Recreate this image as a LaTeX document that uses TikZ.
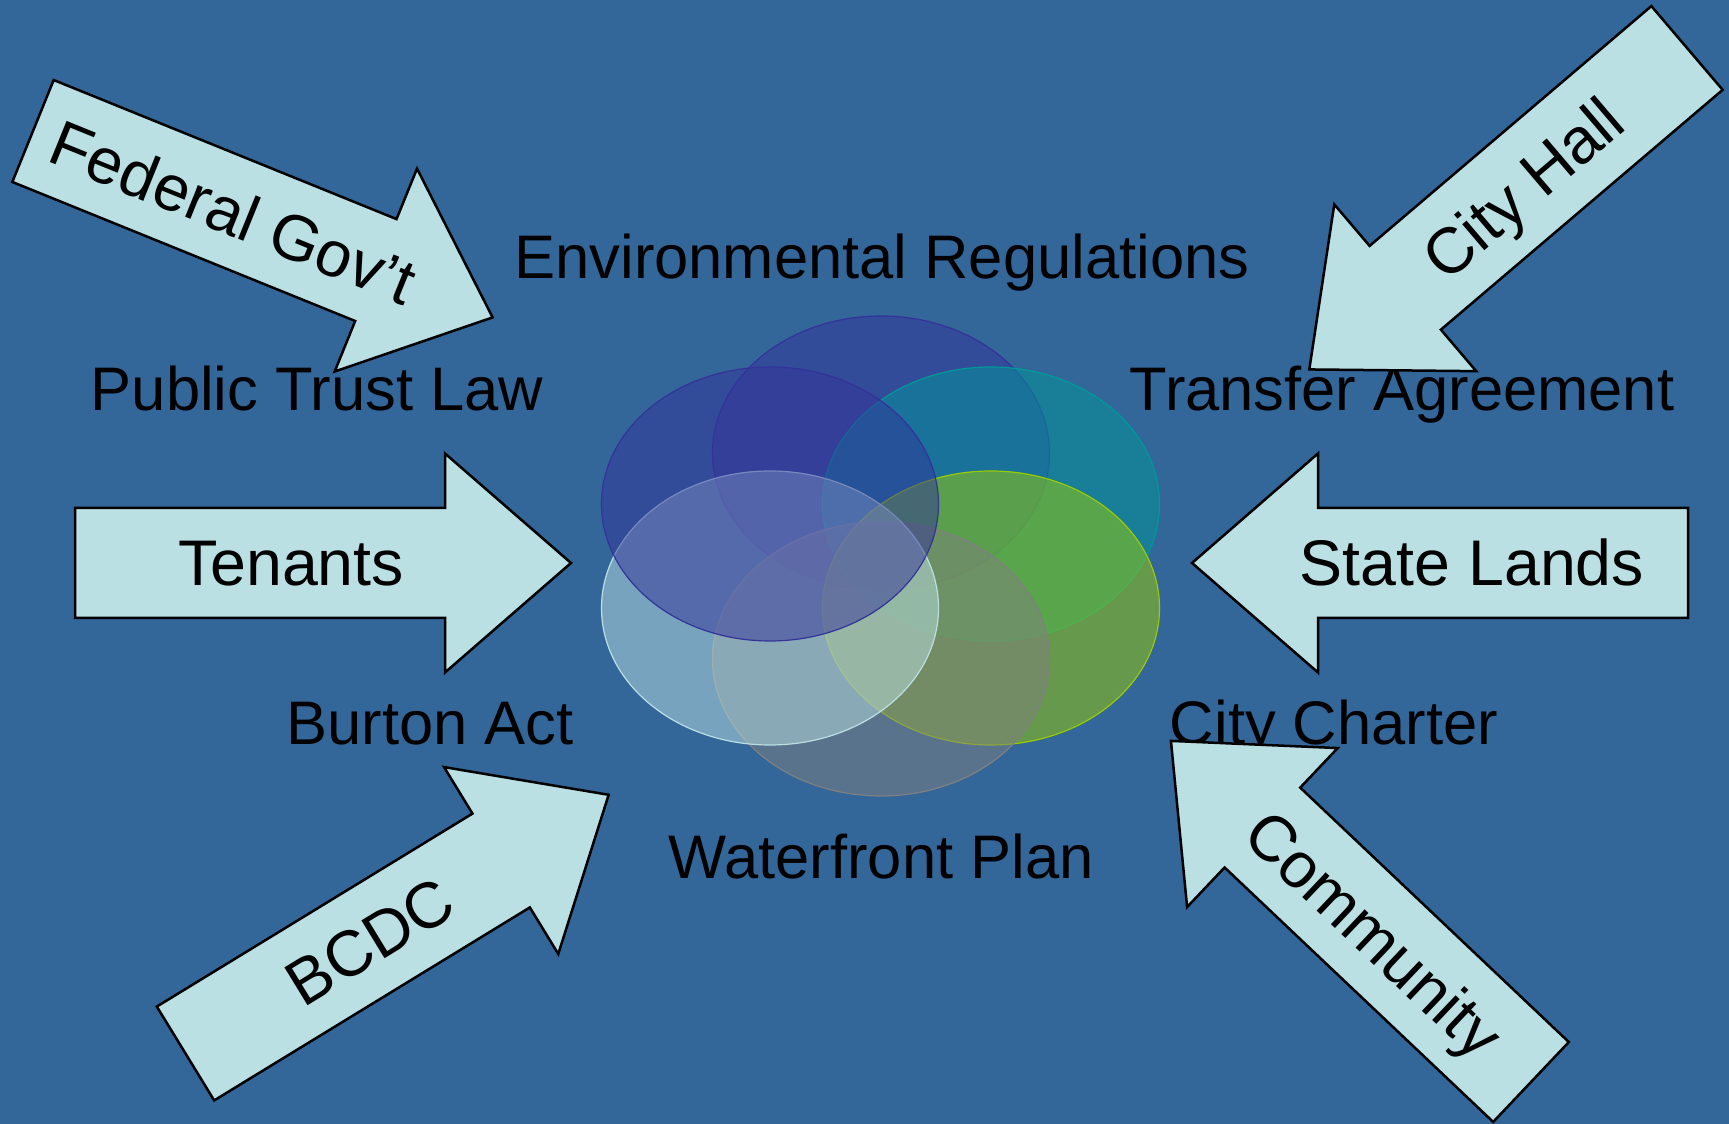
\documentclass[tikz,border=0pt]{standalone}
\usepackage{fontspec}
\setmainfont{Liberation Sans}
\usetikzlibrary{shapes.geometric}

\definecolor{bgblue}{RGB}{51,102,153}
\definecolor{arrowfill}{RGB}{187,224,227}
\definecolor{ovalblue}{RGB}{51,51,153}
\definecolor{ovalteal}{RGB}{0,153,153}
\definecolor{ovalgreen}{RGB}{153,204,0}
\definecolor{ovalgrey}{RGB}{128,128,128}

\begin{document}
\begin{tikzpicture}[
    x=1pt, y=1pt,
    ovalnode/.style={ellipse, inner sep=0pt, minimum width=337pt, minimum height=274pt, fill opacity=0.5, line width=1.2pt},
    labelnode/.style={font=\fontsize{61.5}{74}\selectfont, inner sep=0pt, anchor=base},
    arrowtext/.style={font=\fontsize{64.5}{77}\selectfont, inner sep=0pt, text height=46pt, text depth=0pt},
    arrowshape/.style={fill=arrowfill, draw=black, line width=2.5pt},
]

    \def\bodyW{110}
    \def\headW{219}
    \def\arrowLen{496}
    \def\headLen{126}
    \def\textPos{216}

    % background
    \useasboundingbox (0,0) rectangle (1729,1124);
    \fill[bgblue] (0,0) rectangle (1729,1124);

    % six overlapping ovals (drawn from back to front)
    \foreach \i/\x/\y/\c in {
    % i:    order of drawing,
    % x, y: centre of the oval,
    % c:    colour
    1/881/671/ovalblue,
    2/991/620/ovalteal,
    3/991/516/ovalgreen,
    4/881/465/ovalgrey,
    5/770/516/arrowfill,
    6/770/620/ovalblue}
    {
        \node[ovalnode, fill=\c, draw=\c] at (\x,\y) (oval_\i){};
    }

    % labels round the ovals
    \node[labelnode] at (882,845) (lbl_env){Environmental Regulations};
    \node[labelnode] at (317,713) (lbl_trust){Public Trust Law};
    \node[labelnode] at (1402,713) (lbl_transfer){Transfer Agreement};
    \node[labelnode] at (430,379) (lbl_burton){Burton Act};
    \node[labelnode] at (1334,379) (lbl_charter){City Charter};
    \node[labelnode] at (881,245) (lbl_plan){Waterfront Plan};

    % big block arrows pointing in
    \foreach \name/\x/\y/\ang/\txtAng/\txt in {
    % x, y:   middle of the tail end,
    % ang:    direction the arrow points,
    % txtAng: rotation of its text
    fed/33/993/-22.08/-22.08/{Federal Gov’t},
    tenants/75/561/0/0/{Tenants},
    bcdc/185.5/70.5/31.44/31.44/{BCDC},
    cityhall/1687/1076/220.4/40.4/{City Hall},
    state/1688/561/180/0/{State Lands},
    community/1531/42/136.55/-43.45/{Community}}
    {
        \begin{scope}[shift={(\x,\y)}, rotate=\ang]
            \draw[arrowshape] (0,-\bodyW/2) -- (\arrowLen-\headLen,-\bodyW/2) -- (\arrowLen-\headLen,-\headW/2)
                -- (\arrowLen,0) -- (\arrowLen-\headLen,\headW/2) -- (\arrowLen-\headLen,\bodyW/2) -- (0,\bodyW/2) -- cycle;
            \node[arrowtext, rotate=\txtAng] at (\textPos,0) (arrow_\name){\txt};
        \end{scope}
    }

\end{tikzpicture}
\end{document}
